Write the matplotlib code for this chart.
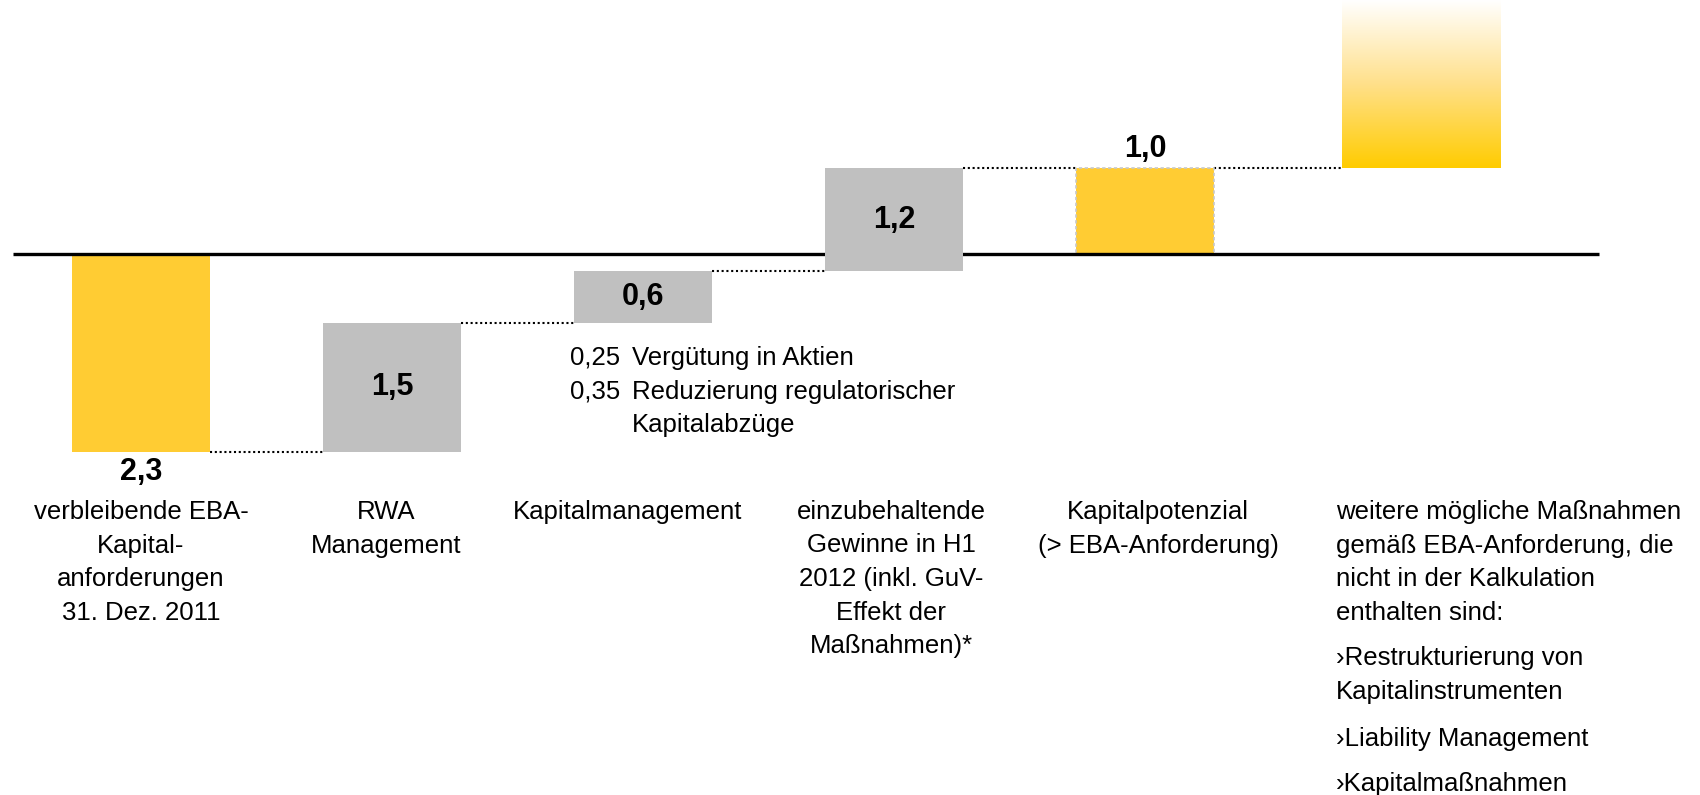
import numpy as np
import matplotlib.pyplot as plt
from matplotlib.colors import LinearSegmentedColormap

plt.rcParams['font.family'] = ['Liberation Sans', 'DejaVu Sans']

# daten (Mrd. EUR)
schritte = ["verbleibende EBA-\nKapital-\nanforderungen\n31. Dez. 2011",
            "RWA\nManagement",
            "Kapitalmanagement",
            "einzubehaltende\nGewinne in H1\n2012 (inkl. GuV-\nEffekt der\nMaßnahmen)*",
            "Kapitalpotenzial\n(> EBA-Anforderung)"]
werte = [-2.3, 1.5, 0.6, 1.2]
potenzial = 1.0
werte_txt = ["2,3", "1,5", "0,6", "1,2", "1,0"]
teil_werte = ["0,25", "0,35"]
teil_txt = ["Vergütung in Aktien", "Reduzierung regulatorischer\nKapitalabzüge"]
weitere_kopf = "weitere mögliche Maßnahmen\ngemäß EBA-Anforderung, die\nnicht in der Kalkulation\nenthalten sind:"
weitere = ["›Restrukturierung von\nKapitalinstrumenten", "›Liability Management", "›Kapitalmaßnahmen"]

gelb = '#FFCC33'
grau = '#C0C0C0'
fs = 18.5
fs_b = 22
ls = 1.5

# pixel -> daten
def dx(p):
    return (p - 141) / 251.0

def dy(p):
    return (254 - p) / 86.0

fig = plt.figure(figsize=(17, 7.95), dpi=100)
ax = fig.add_axes([0, 0, 1, 1])
ax.axis('off')

pos = [0, 1, 2, 3, 4]
breite = 0.55
start = np.concatenate([[0], np.cumsum(werte)[:-1]])
ende = start + np.array(werte)

# wasserfall
for i in range(len(werte)):
    z = 3 if start[i] < 0 < ende[i] else 2
    ax.bar(pos[i], werte[i], bottom=start[i], width=breite,
           color=gelb if i == 0 else grau, zorder=z)

ax.bar(pos[4], potenzial, width=breite, color=gelb, edgecolor='#C8C8C8',
       linestyle=(0, (2, 1.5)), linewidth=1.2, zorder=2)

# weitere massnahmen (verlauf)
x6 = 5.1
b6 = 0.63
ytop = dy(0)
verlauf = LinearSegmentedColormap.from_list('v', ['#FFCC00', '#FFE08A', '#FFFFFF'])
ax.imshow(np.linspace(0, 1, 256).reshape(-1, 1), cmap=verlauf, origin='lower',
          extent=[x6 - b6 / 2, x6 + b6 / 2, potenzial, ytop], aspect='auto', zorder=2)

# verbindungslinien
punkt = (0, (1, 1.3))
for i in range(len(werte)):
    nx = pos[i + 1]
    ax.plot([pos[i] + breite / 2, nx - breite / 2], [ende[i], ende[i]],
            color='black', lw=1.5, ls=punkt, zorder=1)
ax.plot([pos[4] + breite / 2, x6 - b6 / 2], [potenzial, potenzial],
        color='black', lw=1.5, ls=punkt, zorder=1)

# nulllinie
ax.plot([dx(13), dx(1599)], [0, 0], color='black', lw=2.4, zorder=2.5,
        solid_capstyle='butt')

# werte
ax.text(pos[0], ende[0] - 0.23, werte_txt[0], ha='center', va='center',
        fontsize=fs_b, fontweight='bold')
for i in range(1, 4):
    ax.text(pos[i], (start[i] + ende[i]) / 2, werte_txt[i], ha='center', va='center',
            fontsize=fs_b, fontweight='bold', zorder=4)
ax.text(pos[4], potenzial + 0.22, werte_txt[4], ha='center', va='center',
        fontsize=fs_b, fontweight='bold')

# kategorien
lab_x = [141, 386, 628, 891, 1158]
for i in range(len(schritte)):
    ax.text(dx(lab_x[i]), dy(500), schritte[i], ha='center', va='top',
            fontsize=fs, linespacing=ls, multialignment='center')

# kapitalmanagement details
ax.text(dx(570), dy(346), "\n".join(teil_werte), ha='left', va='top',
        fontsize=fs, linespacing=ls)
ax.text(dx(632), dy(346), "\n".join(teil_txt), ha='left', va='top',
        fontsize=fs, linespacing=ls)

# rechte spalte
ax.text(dx(1336), dy(500), weitere_kopf, ha='left', va='top', fontsize=fs, linespacing=ls)
wy = [646, 727, 772]
for i in range(len(weitere)):
    ax.text(dx(1336), dy(wy[i]), weitere[i], ha='left', va='top', fontsize=fs, linespacing=ls)

ax.set_xlim(dx(0), dx(1700))
ax.set_ylim(dy(795), dy(0))

fig.savefig('out.png', dpi=100)
